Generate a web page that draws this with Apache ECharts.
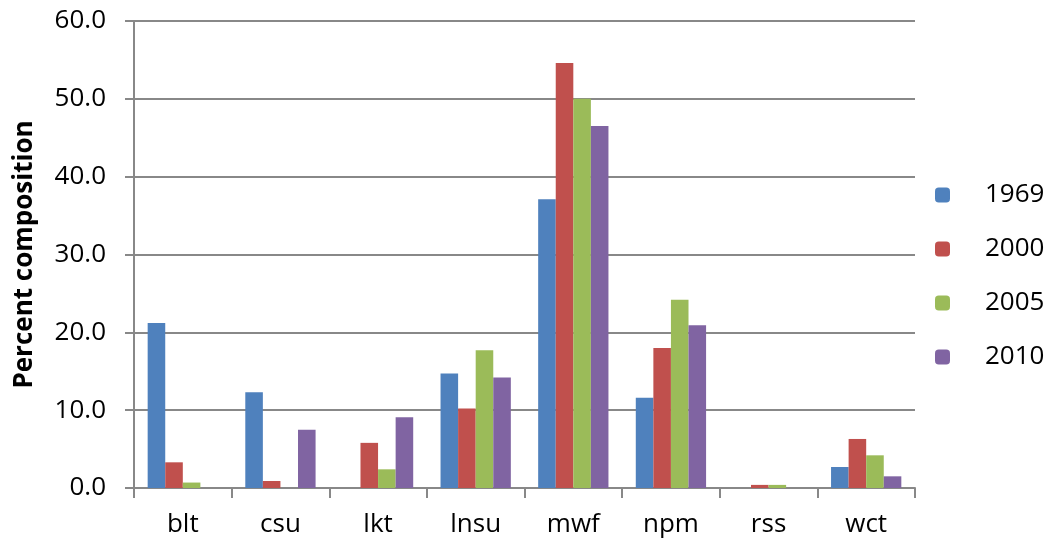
<!DOCTYPE html>
<html>
<head>
<meta charset="utf-8">
<script src="https://cdn.jsdelivr.net/npm/echarts@6/dist/echarts.min.js"></script>
<style>
  html, body { margin: 0; padding: 0; background: #fff; }
  #main { width: 1053px; height: 548px; }
</style>
</head>
<body>
<div id="main"></div>
<script>
// categories and series values
var categories = ['blt', 'csu', 'lkt', 'lnsu', 'mwf', 'npm', 'rss', 'wct'];
var years = ['1969', '2000', '2005', '2010'];
var v1969 = [21.2, 12.3, 0, 14.7, 37.1, 11.6, 0, 2.7];
var v2000 = [3.3, 0.9, 5.8, 10.2, 54.6, 18.0, 0.4, 6.3];
var v2005 = [0.7, 0, 2.4, 17.7, 50.0, 24.2, 0.4, 4.2];
var v2010 = [0, 7.5, 9.1, 14.2, 46.5, 20.9, 0, 1.5];
var colors = ['#4F81BD', '#C0504D', '#9BBB59', '#8064A2'];

var font = 'Open Sans';
var allData = [v1969, v2000, v2005, v2010];

var myChart = echarts.init(document.getElementById('main'));
myChart.setOption({
    animation: false,
    textStyle: { fontFamily: font },
    grid: { left: 134, right: 138, top: 21, bottom: 60, containLabel: false, outerBoundsMode: 'none' },
    legend: {
        orient: 'vertical',
        left: 930,
        top: 177,
        itemWidth: 15,
        itemHeight: 15,
        itemGap: 28,
        data: years,
        textStyle: { fontSize: 26, color: '#000', fontFamily: font, padding: [0, 0, 0, 30] }
    },
    xAxis: {
        type: 'category',
        data: categories,
        axisLine: { lineStyle: { color: '#888', width: 2 } },
        axisTick: { show: true, length: 10, lineStyle: { color: '#888', width: 2 } },
        axisLabel: { fontSize: 26, color: '#000', margin: 24 }
    },
    yAxis: {
        type: 'value',
        min: 0,
        max: 60,
        interval: 10,
        name: 'Percent composition',
        nameLocation: 'middle',
        nameGap: 96,
        nameTextStyle: { fontSize: 26, fontWeight: 'bold', color: '#000' },
        axisLine: { show: true, lineStyle: { color: '#888', width: 2 } },
        axisTick: { show: true, length: 9, lineStyle: { color: '#888', width: 2 } },
        splitLine: { lineStyle: { color: '#888', width: 2 } },
        axisLabel: {
            fontSize: 26, color: '#000', margin: 28,
            formatter: function (v) { return v.toFixed(1); }
        }
    },
    series: years.map(function (y, i) {
        return {
            name: y,
            type: 'bar',
            data: allData[i],
            barGap: '0%',
            barCategoryGap: '28%',
            itemStyle: { color: colors[i] }
        };
    })
});
</script>
</body>
</html>
